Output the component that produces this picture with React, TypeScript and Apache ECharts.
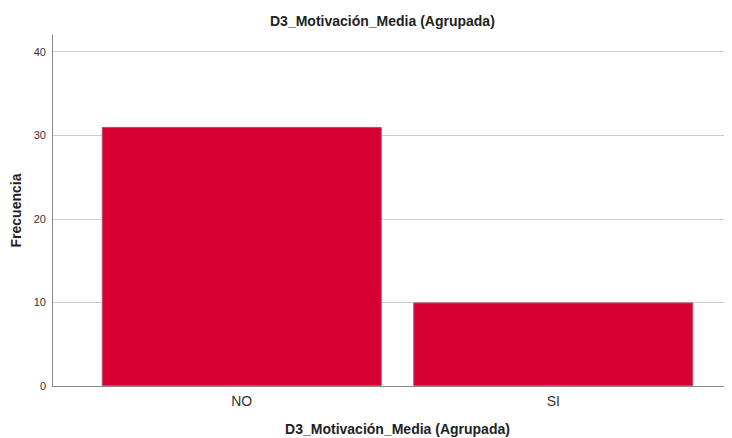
import React, { useEffect, useRef } from "react";
import * as echarts from "echarts";

const categories = ["NO", "SI"];
const frequencies = [31, 10];
const yTicks = [0, 10, 20, 30, 40];
const titleText = "D3_Motivación_Media (Agrupada)";
const xAxisName = "D3_Motivación_Media (Agrupada)";
const yAxisName = "Frecuencia";

export default function App() {
  const ref = useRef<HTMLDivElement>(null);
  useEffect(() => {
    if (!ref.current) return;
    const chart = echarts.init(ref.current, null, { renderer: "svg" });
    const font = "'Liberation Sans', Arial, sans-serif";
    chart.setOption({
      animation: false,
      backgroundColor: "#ffffff",
      textStyle: { fontFamily: font },
      title: {
        text: titleText,
        left: 265,
        top: 9,
        textStyle: { fontFamily: font, fontSize: 14, fontWeight: "bold", color: "#222" },
      },
      grid: [
        { left: 52, right: 1, top: 35, bottom: 52, outerBoundsMode: "none", containLabel: false },
        { left: 86, right: 23, top: 35, bottom: 52, outerBoundsMode: "none", containLabel: false },
      ],
      xAxis: [
        {
          type: "category",
          gridIndex: 0,
          data: [""],
          boundaryGap: false,
          axisLine: { show: true, lineStyle: { color: "#8a8a8a", width: 1 } },
          axisTick: { show: false },
          axisLabel: { show: false },
          splitLine: { show: false },
        },
        {
          type: "category",
          gridIndex: 1,
          data: categories,
          axisLine: { show: false },
          axisTick: { show: false },
          axisLabel: { fontFamily: font, fontSize: 14, color: "#333", margin: 8 },
          name: xAxisName,
          nameLocation: "middle",
          nameGap: 36,
          nameTextStyle: { fontFamily: font, fontSize: 14, fontWeight: "bold", color: "#222" },
        },
      ],
      yAxis: [
        {
          type: "value",
          gridIndex: 0,
          min: yTicks[0],
          max: 42,
          interval: 10,
          axisLine: { show: true, lineStyle: { color: "#8a8a8a", width: 1 } },
          axisTick: { show: false },
          axisLabel: { fontFamily: font, fontSize: 11, color: "#333", margin: 6, showMaxLabel: false },
          splitLine: { show: true, showMaxLine: false, lineStyle: { color: "#cccccc", width: 1 } },
          name: yAxisName,
          nameLocation: "middle",
          nameGap: 28,
          nameTextStyle: { fontFamily: font, fontSize: 14, fontWeight: "bold", color: "#222" },
        },
        {
          type: "value",
          gridIndex: 1,
          min: 0,
          max: 42,
          show: false,
        },
      ],
      series: [
        {
          type: "bar",
          xAxisIndex: 1,
          yAxisIndex: 1,
          data: frequencies,
          barWidth: 280,
          itemStyle: { color: "#d70032", borderColor: "#c04a64", borderWidth: 1 },
        },
      ],
    });
    return () => chart.dispose();
  }, []);
  return <div ref={ref} style={{ width: 732, height: 438, marginLeft: -8, marginTop: -8 }} />;
}
